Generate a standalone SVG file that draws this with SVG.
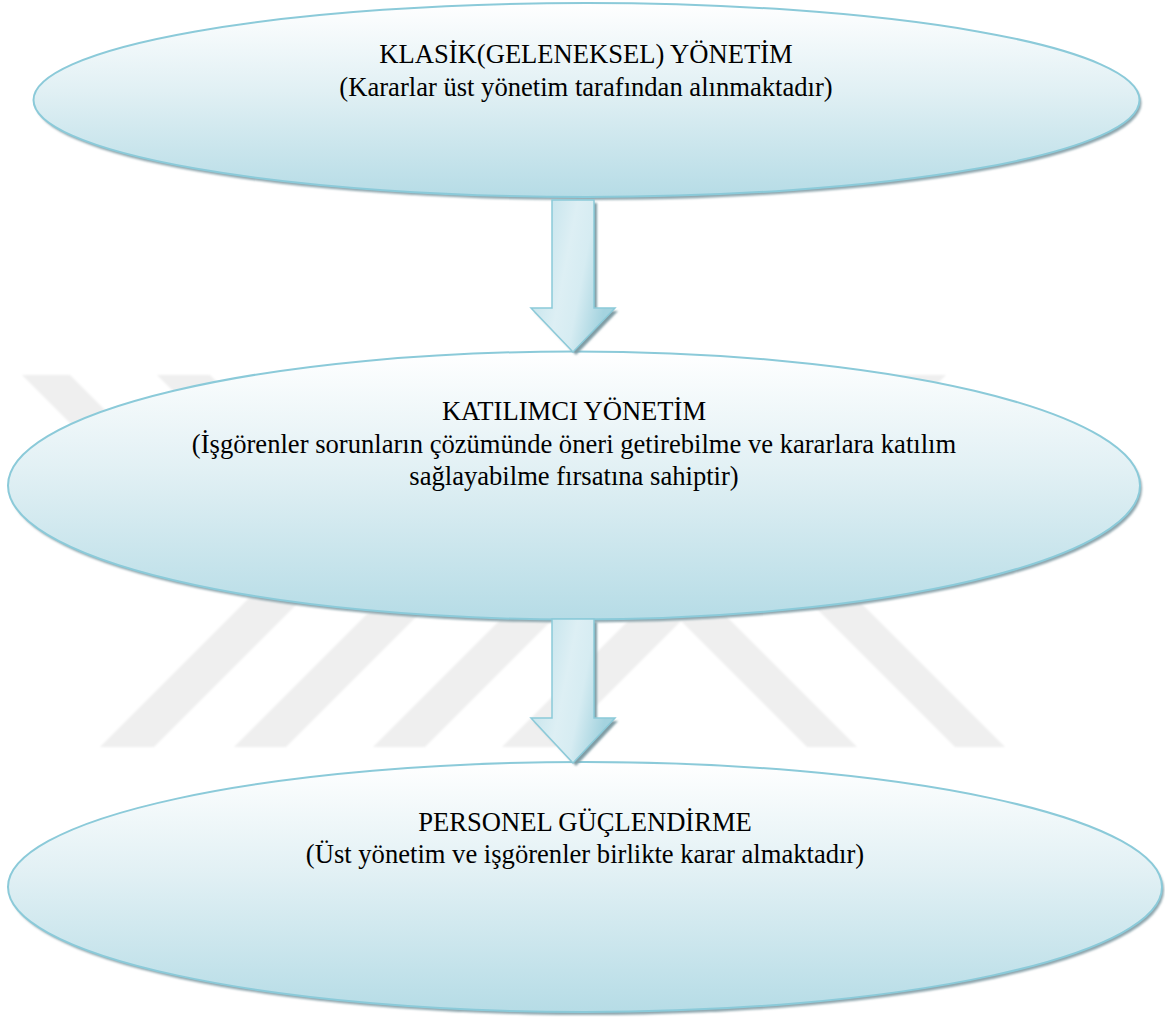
<svg xmlns="http://www.w3.org/2000/svg" width="1165" height="1022" viewBox="0 0 1165 1022">
  <defs>
    <linearGradient id="ovalFill" x1="0" y1="0" x2="0" y2="1">
      <stop offset="0" stop-color="#ffffff"/>
      <stop offset="0.45" stop-color="#e1f0f4"/>
      <stop offset="1" stop-color="#b6dce6"/>
    </linearGradient>
    <linearGradient id="arrowFill" x1="0" y1="0" x2="1" y2="0.35">
      <stop offset="0" stop-color="#b9dee8"/>
      <stop offset="0.5" stop-color="#ddeff4"/>
      <stop offset="0.7" stop-color="#d6ecf2"/>
      <stop offset="1" stop-color="#a4d3df"/>
    </linearGradient>
    <filter id="soft" x="-5%" y="-5%" width="110%" height="110%">
      <feGaussianBlur stdDeviation="0.8"/>
    </filter>
  </defs>
  <style>
    .band { fill: #efefef; }
    .oval { fill: url(#ovalFill); stroke: #8bcad9; stroke-width: 2; }
    .oval-shadow { fill: #8ea6ad; filter: url(#soft); }
    .arrow { fill: url(#arrowFill); stroke: #8bcad9; stroke-width: 1.5; stroke-linejoin: miter; }
    .arrow-shadow { fill: #7f9ca4; filter: url(#soft); }
    .label { font-family: "Liberation Serif", "Times New Roman", serif; font-size: 26.6px; fill: #000000; text-anchor: middle; }
  </style>

  <rect width="1165" height="1022" fill="#ffffff"/>

  <!-- faint background stripes -->
  <g id="background-stripes" filter="url(#soft)">
    <polygon class="band" points="22,375 70,375 260,565 212,565"/>
    <polygon class="band" points="157,375 210,375 400,565 347,565"/>
    <polygon class="band" points="890,375 946,375 756,565 700,565"/>
    <polygon class="band" points="100,747 154,747 344,557 290,557"/>
    <polygon class="band" points="234,747 286,747 476,557 424,557"/>
    <polygon class="band" points="373,747 425,747 615,557 563,557"/>
    <polygon class="band" points="502,747 555,747 745,557 692,557"/>
    <polygon class="band" points="807,747 857,747 667,557 617,557"/>
    <polygon class="band" points="955,747 1005,747 815,557 765,557"/>
  </g>

  <!-- nodes -->
  <g id="node-klasik">
    <ellipse class="oval-shadow" cx="588.5" cy="103" rx="553" ry="97"/>
    <ellipse class="oval" cx="586.5" cy="100" rx="553" ry="97"/>
  </g>

  <g id="node-katilimci">
    <ellipse class="oval-shadow" cx="576" cy="488.5" rx="566" ry="134"/>
    <ellipse class="oval" cx="574" cy="485.5" rx="566" ry="134"/>
  </g>

  <g id="node-guclendirme">
    <ellipse class="oval-shadow" cx="587" cy="890" rx="577" ry="125"/>
    <ellipse class="oval" cx="585" cy="887" rx="577" ry="125"/>
  </g>

  <!-- connectors: block arrows between the ovals -->
  <g id="connectors">
    <g id="arrow-klasik-katilimci">
      <polygon class="arrow-shadow" points="555,203 597,203 597,311 618,311 576,355 534,311 555,311"/>
      <polygon class="arrow" points="552,200 594,200 594,308 615,308 573,352 531,308 552,308"/>
    </g>
    <g id="arrow-katilimci-guclendirme">
      <polygon class="arrow-shadow" points="555,622 597,622 597,721 618,721 576,766 534,721 555,721"/>
      <polygon class="arrow" points="552,619 594,619 594,718 615,718 573,763 531,718 552,718"/>
    </g>
  </g>

  <!-- labels -->
  <g id="labels">
    <text class="label" x="586" y="63">KLASİK(GELENEKSEL) YÖNETİM</text>
    <text class="label" x="586" y="96">(Kararlar üst yönetim tarafından alınmaktadır)</text>
    <text class="label" x="574" y="420">KATILIMCI YÖNETİM</text>
    <text class="label" x="574" y="453">(İşgörenler sorunların çözümünde öneri getirebilme ve kararlara katılım</text>
    <text class="label" x="574" y="485">sağlayabilme fırsatına sahiptir)</text>
    <text class="label" x="585" y="831">PERSONEL GÜÇLENDİRME</text>
    <text class="label" x="585" y="863">(Üst yönetim ve işgörenler birlikte karar almaktadır)</text>
  </g>
</svg>
